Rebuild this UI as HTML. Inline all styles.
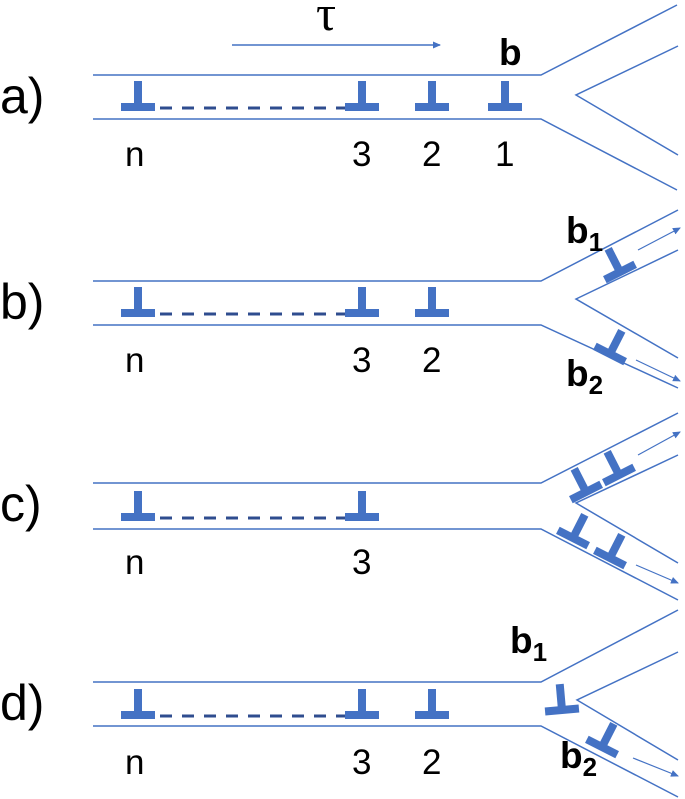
<!DOCTYPE html>
<html><head><meta charset="utf-8"><style>
html,body{margin:0;padding:0;background:#fff;}
svg{display:block;}
.l{stroke:#4472c4;stroke-width:1.5;fill:none;}
.t{font-family:"Liberation Sans",sans-serif;fill:#000;}
</style></head><body>
<svg width="685" height="799" viewBox="0 0 685 799" xmlns="http://www.w3.org/2000/svg">
<defs>
<g id="T"><rect x="-17" y="-4" width="34" height="8" fill="#4472c4"/><rect x="-4" y="-26" width="8" height="24" fill="#4472c4"/></g>
<marker id="ah" markerWidth="8" markerHeight="8" refX="7" refY="4" orient="auto" markerUnits="userSpaceOnUse"><path d="M0,0.5 L8,4 L0,7.5Z" fill="#4472c4"/></marker>
</defs>
<text x="316" y="30" font-family="Liberation Serif,serif" font-size="50" fill="#000">τ</text>
<line x1="232" y1="45" x2="440" y2="45" stroke="#4472c4" stroke-width="1.5" marker-end="url(#ah)"/>

<g>
<text class="t" x="0" y="113" font-size="50">a)</text>
<polyline class="l" points="93,75 541,75 677,5"/>
<polyline class="l" points="93,119 541,119 677,190"/>
<polyline class="l" points="678,46 576,95 678,155"/>
<line x1="160" y1="108" x2="345" y2="108" stroke="#2f4d8f" stroke-width="3" stroke-dasharray="12,10"/>
<use href="#T" x="138" y="107"/><use href="#T" x="362" y="107"/><use href="#T" x="432" y="107"/><use href="#T" x="505" y="107"/>
<text class="t" x="125" y="166" font-size="35">n</text>
<text class="t" x="352" y="166" font-size="35">3</text>
<text class="t" x="422" y="166" font-size="35">2</text>
<text class="t" x="495" y="166" font-size="35">1</text>
<text class="t" x="499" y="65" font-size="37" font-weight="bold">b</text>
</g>

<g>
<text class="t" x="0" y="319" font-size="50">b)</text>
<polyline class="l" points="93,281 541,281 678,210"/>
<polyline class="l" points="93,325 541,325 678,388"/>
<polyline class="l" points="678,250 576,299 678,358"/>
<line x1="160" y1="314" x2="345" y2="314" stroke="#2f4d8f" stroke-width="3" stroke-dasharray="12,10"/>
<use href="#T" x="138" y="313"/><use href="#T" x="362" y="313"/><use href="#T" x="432" y="313"/>
<text class="t" x="125" y="372" font-size="35">n</text>
<text class="t" x="352" y="372" font-size="35">3</text>
<text class="t" x="422" y="372" font-size="35">2</text>
<use href="#T" transform="translate(620,272) rotate(-27)"/>
<use href="#T" transform="translate(610,354) rotate(27)"/>
<line x1="638" y1="250" x2="680" y2="228" stroke="#4472c4" stroke-width="1.2" marker-end="url(#ah)"/>
<line x1="636" y1="360" x2="680" y2="381" stroke="#4472c4" stroke-width="1.2" marker-end="url(#ah)"/>
<text class="t" x="566" y="243" font-size="37" font-weight="bold">b<tspan font-size="26" dy="8">1</tspan></text>
<text class="t" x="566" y="386" font-size="37" font-weight="bold">b<tspan font-size="26" dy="8">2</tspan></text>
</g>

<g>
<text class="t" x="0" y="521" font-size="50">c)</text>
<polyline class="l" points="93,483 541,483 678,413"/>
<polyline class="l" points="93,529 541,529 678,600"/>
<polyline class="l" points="678,455 576,503 678,563"/>
<line x1="160" y1="518" x2="345" y2="518" stroke="#2f4d8f" stroke-width="3" stroke-dasharray="12,10"/>
<use href="#T" x="138" y="517"/><use href="#T" x="362" y="517"/>
<text class="t" x="125" y="574" font-size="35">n</text>
<text class="t" x="352" y="574" font-size="35">3</text>
<use href="#T" transform="translate(586,492) rotate(-27)"/>
<use href="#T" transform="translate(619,475) rotate(-27)"/>
<use href="#T" transform="translate(573,538) rotate(27)"/>
<use href="#T" transform="translate(610,558) rotate(27)"/>
<line x1="638" y1="455" x2="680" y2="432" stroke="#4472c4" stroke-width="1.2" marker-end="url(#ah)"/>
<line x1="636" y1="565" x2="678" y2="583" stroke="#4472c4" stroke-width="1.2" marker-end="url(#ah)"/>
</g>

<g>
<text class="t" x="0" y="720" font-size="50">d)</text>
<polyline class="l" points="93,682 541,682 678,610"/>
<polyline class="l" points="93,726 541,726 678,797"/>
<polyline class="l" points="678,652 577,700 678,760"/>
<line x1="160" y1="716" x2="345" y2="716" stroke="#2f4d8f" stroke-width="3" stroke-dasharray="12,10"/>
<use href="#T" x="138" y="715"/><use href="#T" x="362" y="715"/><use href="#T" x="432" y="715"/>
<text class="t" x="125" y="774" font-size="35">n</text>
<text class="t" x="352" y="774" font-size="35">3</text>
<text class="t" x="422" y="774" font-size="35">2</text>
<use href="#T" transform="translate(562,710) rotate(-5)"/>
<use href="#T" transform="translate(602,747) rotate(27)"/>
<line x1="633" y1="758" x2="678" y2="776" stroke="#4472c4" stroke-width="1.2" marker-end="url(#ah)"/>
<text class="t" x="510" y="653" font-size="37" font-weight="bold">b<tspan font-size="26" dy="8">1</tspan></text>
<text class="t" x="560" y="768" font-size="37" font-weight="bold">b<tspan font-size="26" dy="8">2</tspan></text>
</g>
</svg>
</body></html>
